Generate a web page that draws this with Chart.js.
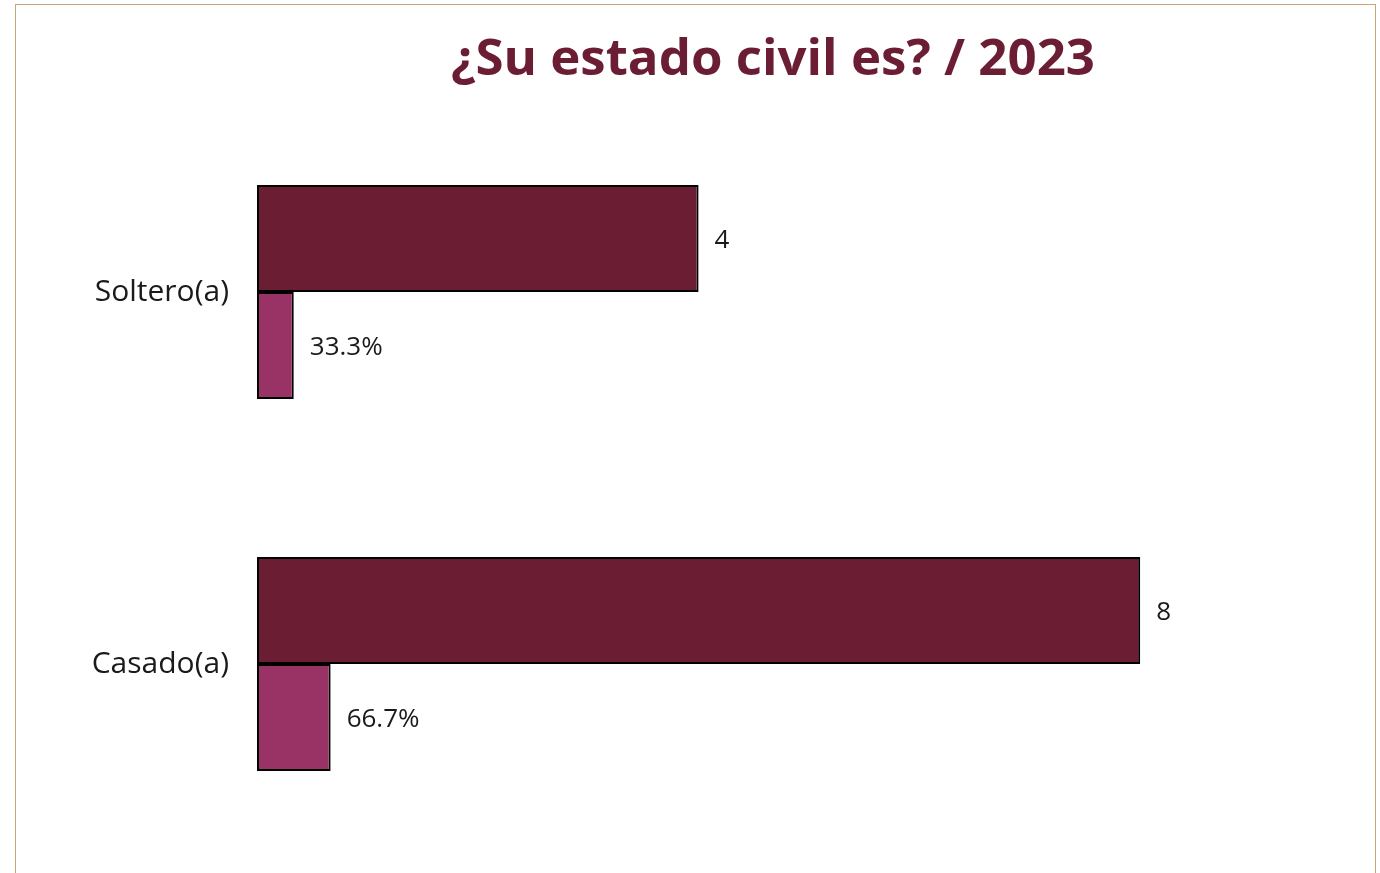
<!DOCTYPE html>
<html>
<head>
<meta charset="utf-8">
<script src="https://cdn.jsdelivr.net/npm/chart.js@4.4.1/dist/chart.umd.min.js"></script>
<style>
  html, body { margin: 0; padding: 0; background: #fff; }
  #wrap { position: relative; width: 1380px; height: 873px; overflow: hidden; }
  #marco {
    position: absolute; left: 15px; top: 4px; width: 1361px; height: 900px;
    border: 1.5px solid #c9a57a; border-bottom: none; box-sizing: border-box;
  }
  #titulo {
    position: absolute; top: 20px; left: 323px; width: 900px; margin: 0;
    text-align: center; font-family: "Open Sans", sans-serif; font-weight: 700;
    font-size: 51px; color: #6b1d33;
  }
  canvas { position: absolute; left: 0; top: 0; }
</style>
</head>
<body>
<div id="wrap">
  <div id="marco"></div>
  <h1 id="titulo">¿Su estado civil es? / 2023</h1>
  <canvas id="grafica" width="1380" height="873"></canvas>
</div>
<script>
// categorias y valores
const categorias = ["Soltero(a)", "Casado(a)"];
const totales = [4, 8];
const proporciones = [0.333, 0.667];

// etiquetas al final de cada barra
const etiquetasBarras = {
  id: 'etiquetasBarras',
  afterDatasetsDraw(chart) {
    const ctx = chart.ctx;
    ctx.save();
    ctx.font = '26px "Open Sans", sans-serif';
    ctx.fillStyle = '#1a1a1a';
    ctx.textBaseline = 'middle';
    ctx.textAlign = 'left';
    chart.data.datasets.forEach((ds, i) => {
      chart.getDatasetMeta(i).data.forEach((bar, j) => {
        const v = ds.data[j];
        const txt = i === 0 ? String(v) : (v * 100).toFixed(1) + '%';
        ctx.fillText(txt, bar.x + 16, bar.y + 2);
      });
    });
    ctx.restore();
  }
};

const ctx = document.getElementById('grafica');
const grafica = new Chart(ctx, {
  type: 'bar',
  data: {
    labels: categorias,
    datasets: [{
      label: 'Total',
      data: totales,
      backgroundColor: '#6b1d33',
      borderColor: '#000',
      borderWidth: 2,
      borderSkipped: false
    }, {
      label: 'Porcentaje',
      data: proporciones,
      backgroundColor: '#993366',
      borderColor: '#000',
      borderWidth: 2,
      borderSkipped: false
    }]
  },
  options: {
    responsive: false,
    animation: false,
    indexAxis: 'y',
    datasets: {
      bar: { categoryPercentage: 0.575, barPercentage: 1.0 }
    },
    layout: { padding: { top: 106, right: 19, bottom: 23, left: 0 } },
    plugins: {
      legend: { display: false },
      tooltip: { enabled: false }
    },
    scales: {
      x: {
        display: false,
        min: 0,
        max: 10
      },
      y: {
        grid: { display: false, drawTicks: false },
        border: { display: false },
        ticks: {
          padding: 28,
          color: '#1a1a1a',
          font: { family: '"Open Sans", sans-serif', size: 30 }
        },
        afterFit(scale) {
          // ancho fijo y sin relleno extra arriba/abajo
          scale.width = 257;
          scale.paddingTop = 0;
          scale.paddingBottom = 0;
        }
      }
    }
  },
  plugins: [etiquetasBarras]
});
</script>
</body>
</html>
